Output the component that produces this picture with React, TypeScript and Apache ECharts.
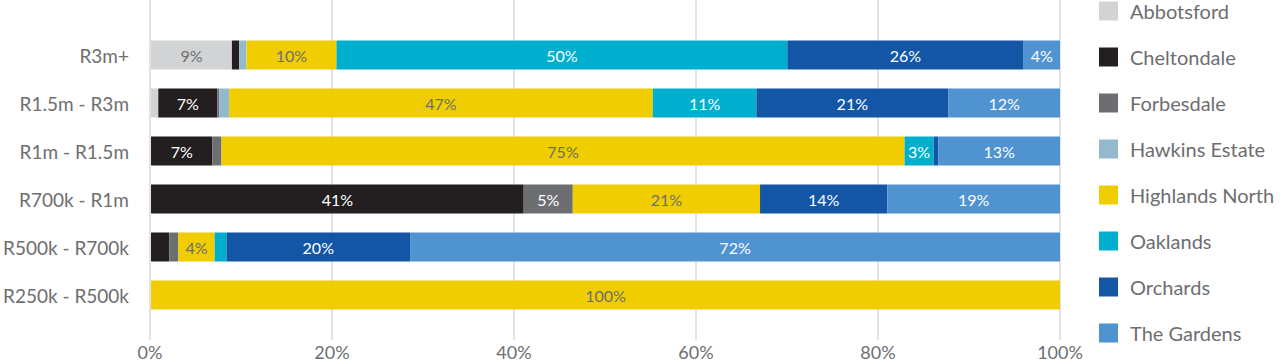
import React, { useEffect, useRef } from "react";
import * as echarts from "echarts";

const categories = ["R3m+", "R1.5m - R3m", "R1m - R1.5m", "R700k - R1m", "R500k - R700k", "R250k - R500k"];
const seriesNames = ["Abbotsford", "Cheltondale", "Forbesdale", "Hawkins Estate", "Highlands North", "Oaklands", "Orchards", "The Gardens"];
const abbotsford = [8.9, 0.8, 0, 0, 0, 0];
const cheltondale = [0.8, 6.5, 6.75, 41.0, 2.0, 0];
const forbesdale = [0, 0.2, 1.0, 5.4, 1.0, 0];
const hawkins = [0.8, 1.1, 0, 0, 0, 0];
const highlands = [9.9, 46.6, 75.15, 20.6, 4.0, 100];
const oaklands = [49.6, 11.4, 3.2, 0, 1.3, 0];
const orchards = [26.0, 21.1, 0.5, 14.0, 20.2, 0];
const gardens = [4.0, 12.3, 13.4, 19.0, 71.5, 0];
const xTicks = [0, 20, 40, 60, 80, 100];

const colors = ["#d1d3d4", "#231f20", "#6d6e71", "#94b8cc", "#f0cd00", "#00aecd", "#1456a6", "#4f93d1"];
const labelColors = ["#6d6e71", "#ffffff", "#ffffff", "#6d6e71", "#6d6e71", "#ffffff", "#ffffff", "#ffffff"];
const FONT = "Lato";

export default function App() {
  const ref = useRef<HTMLDivElement>(null);
  useEffect(() => {
    if (!ref.current) return;
    const chart = echarts.init(ref.current, undefined, { renderer: "svg" });
    const data = [abbotsford, cheltondale, forbesdale, hawkins, highlands, oaklands, orchards, gardens];
    chart.setOption({
      animation: false,
      textStyle: { fontFamily: FONT },
      color: colors,
      legend: {
        orient: "vertical",
        left: 1099,
        top: 1,
        padding: 0,
        itemWidth: 19,
        itemHeight: 19,
        itemGap: 26,
        icon: "rect",
        data: seriesNames,
        textStyle: { fontFamily: FONT, fontSize: 20, color: "#6d6e71", lineHeight: 20, padding: [0, 0, 0, 7] },
      },
      grid: [
        { left: 150, width: 910, top: 31, height: 288 },
        { left: 150, width: 910, top: 0, height: 340 },
      ],
      xAxis: [
        {
          gridIndex: 0,
          type: "value",
          min: 0,
          max: 100,
          interval: 20,
          axisLabel: { show: false },
          axisLine: { show: false },
          axisTick: { show: false },
          splitLine: { show: false },
        },
        {
          gridIndex: 1,
          type: "value",
          min: 0,
          max: 100,
          interval: 20,
          axisLabel: {
            formatter: (v: number) => (xTicks.includes(v) ? v + "%" : ""),
            fontFamily: FONT,
            fontSize: 18,
            color: "#6d6e71",
            margin: 3,
          },
          axisLine: { show: false },
          axisTick: { show: false },
          splitLine: { show: true, lineStyle: { color: "#d9d9d9", width: 1.5 } },
        },
      ],
      yAxis: [
        {
          gridIndex: 0,
          type: "category",
          data: categories,
          inverse: true,
          axisLine: { show: false },
          axisTick: { show: false },
          axisLabel: { fontFamily: FONT, fontSize: 19, color: "#6d6e71", margin: 22 },
        },
        {
          gridIndex: 1,
          type: "value",
          show: false,
        },
      ],
      series: seriesNames.map((name, i) => ({
        name,
        type: "bar",
        stack: "total",
        xAxisIndex: 0,
        yAxisIndex: 0,
        barWidth: 29,
        data: data[i],
        itemStyle: { color: colors[i] },
        label: {
          show: true,
          position: "inside",
          fontFamily: FONT,
          fontSize: 16,
          color: labelColors[i],
          formatter: (p: any) => (p.value >= 2.5 ? Math.round(p.value) + "%" : ""),
        },
      })),
    });
    return () => chart.dispose();
  }, []);
  return (
    <div
      ref={ref}
      style={{ position: "absolute", left: 0, top: 0, width: 1280, height: 362 }}
    />
  );
}
